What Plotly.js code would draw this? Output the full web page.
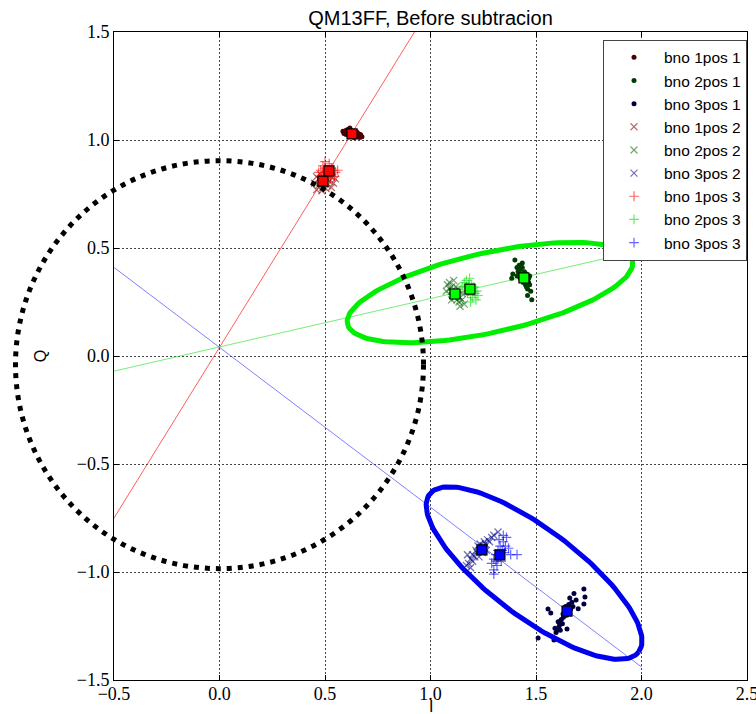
<!DOCTYPE html>
<html><head><meta charset="utf-8">
<script src="https://cdn.plot.ly/plotly-3.0.1.min.js"></script>
<style>html,body{margin:0;padding:0;background:#fff}#chart{width:756px;height:714px}</style>
</head><body><div id="chart"></div>
<script>
// ---------- data ----------
const seriesNames = ["bno 1pos 1","bno 2pos 1","bno 3pos 1","bno 1pos 2","bno 2pos 2","bno 3pos 2","bno 1pos 3","bno 2pos 3","bno 3pos 3"];

// bno 1 pos 1
const b1p1I = [0.585,0.595,0.600,0.605,0.610,0.612,0.615,0.620,0.622,0.625,0.628,0.630,0.633,0.636,0.640,0.642,0.645,0.648,0.652,0.655,0.660,0.665,0.670,0.675,0.618,0.600,0.650,0.638,0.590,0.608,0.658,0.668];
const b1p1Q = [1.040,1.035,1.045,1.030,1.040,1.050,1.025,1.035,1.045,1.020,1.030,1.040,1.028,1.035,1.022,1.032,1.018,1.028,1.025,1.015,1.022,1.012,1.020,1.015,1.055,1.025,1.038,1.012,1.030,1.048,1.030,1.026];
// bno 2 pos 1
const b2p1I = [1.40,1.41,1.415,1.42,1.42,1.425,1.43,1.43,1.435,1.44,1.44,1.445,1.45,1.45,1.455,1.46,1.46,1.465,1.47,1.475,1.46,1.48,1.39,1.385,1.47,1.435,1.455,1.425,1.445,1.465,1.41];
const b2p1Q = [0.444,0.41,0.39,0.42,0.37,0.40,0.38,0.35,0.41,0.37,0.34,0.39,0.36,0.33,0.38,0.35,0.31,0.34,0.33,0.30,0.28,0.26,0.38,0.36,0.37,0.43,0.32,0.36,0.35,0.36,0.37];
// bno 3 pos 1
const b3p1I = [1.727,1.732,1.727,1.68,1.557,1.647,1.60,1.585,1.51,1.66,1.67,1.655,1.65,1.64,1.66,1.635,1.63,1.62,1.625,1.61,1.605,1.595,1.615,1.69,1.675,1.645,1.57,1.70,1.665,1.652,1.638,1.628,1.612,1.59];
const b3p1Q = [-1.079,-1.116,-1.148,-1.10,-1.171,-1.264,-1.268,-1.315,-1.306,-1.12,-1.14,-1.15,-1.17,-1.16,-1.19,-1.19,-1.21,-1.22,-1.24,-1.25,-1.23,-1.28,-1.27,-1.13,-1.16,-1.20,-1.19,-1.17,-1.17,-1.18,-1.175,-1.195,-1.23,-1.26];
// bno 1 pos 2
const b1p2I = [0.45,0.46,0.47,0.47,0.48,0.48,0.49,0.49,0.50,0.50,0.51,0.51,0.52,0.53,0.53,0.54,0.46,0.55,0.485,0.505];
const b1p2Q = [0.80,0.83,0.79,0.82,0.84,0.80,0.78,0.82,0.80,0.84,0.79,0.82,0.81,0.78,0.83,0.80,0.77,0.82,0.765,0.775];
// bno 2 pos 2
const b2p2I = [1.08,1.09,1.09,1.10,1.10,1.105,1.11,1.11,1.115,1.12,1.12,1.125,1.13,1.13,1.135,1.14,1.14,1.15,1.15,1.10,1.16,1.075];
const b2p2Q = [0.33,0.31,0.34,0.30,0.32,0.28,0.35,0.30,0.27,0.29,0.32,0.26,0.28,0.31,0.25,0.27,0.23,0.26,0.29,0.26,0.24,0.30];
// bno 3 pos 2
const b3p2I = [1.17,1.18,1.19,1.20,1.20,1.21,1.215,1.22,1.225,1.23,1.235,1.24,1.245,1.25,1.255,1.26,1.27,1.28,1.29,1.30,1.32,1.19,1.23,1.265,1.175];
const b3p2Q = [-0.97,-0.96,-0.94,-0.95,-0.92,-0.93,-0.90,-0.91,-0.88,-0.90,-0.87,-0.89,-0.91,-0.88,-0.86,-0.87,-0.85,-0.86,-0.84,-0.83,-0.815,-0.98,-0.93,-0.90,-0.92];
// bno 1 pos 3
const b1p3I = [0.48,0.49,0.49,0.50,0.50,0.51,0.51,0.52,0.52,0.53,0.53,0.54,0.545,0.55,0.56,0.50,0.525,0.47];
const b1p3Q = [0.86,0.84,0.88,0.85,0.87,0.83,0.86,0.89,0.85,0.84,0.87,0.86,0.83,0.85,0.86,0.90,0.82,0.85];
// bno 2 pos 3
const b2p3I = [1.16,1.165,1.17,1.17,1.175,1.18,1.18,1.185,1.19,1.19,1.195,1.20,1.20,1.205,1.21,1.215,1.22,1.225,1.19,1.15];
const b2p3Q = [0.34,0.31,0.35,0.32,0.29,0.33,0.30,0.36,0.31,0.28,0.33,0.30,0.27,0.32,0.29,0.26,0.30,0.28,0.25,0.32];
// bno 3 pos 3
const b3p3I = [1.29,1.30,1.30,1.31,1.31,1.315,1.32,1.32,1.33,1.33,1.335,1.34,1.345,1.35,1.355,1.36,1.37,1.38,1.41,1.30,1.325,1.345];
const b3p3Q = [-0.96,-0.99,-0.94,-0.95,-0.92,-0.97,-0.90,-0.94,-0.92,-0.88,-0.95,-0.90,-0.86,-0.91,-0.88,-0.84,-0.89,-0.92,-0.92,-1.01,-0.85,-0.83];

// cluster means (big squares)
const meanI = [0.628,0.490,0.519, 1.443,1.116,1.187, 1.647,1.244,1.329];
const meanQ = [1.028,0.810,0.857, 0.361,0.287,0.310, -1.181,-0.898,-0.921];
const meanColors = ["#ff0000","#ff0000","#ff0000","#00ff00","#00ff00","#00ff00","#0000ff","#0000ff","#0000ff"];

// straight lines from the common origin
const lineI = [-0.5, 2.0];
const redLineQ = [-0.75, 3.2];
const greenLineQ = [-0.07, 0.49];
const blueLineQ = [0.41, -1.44];

// ---------- layout geometry ----------
const W = 756, H = 714;
const M = {l:114, r:9, t:32, b:34};
const xRange = [-0.5, 2.5], yRange = [-1.5, 1.5];
const plotW = W - M.l - M.r, plotH = H - M.t - M.b;
const sx = plotW / (xRange[1]-xRange[0]);
const sy = plotH / (yRange[1]-yRange[0]);

// annotation outlines (centre in data units, semi-axes in px, angle in deg)
const greenEllipse = {cI:1.282, cQ:0.294, a:146, b:40, ang:12.5};
const blueEllipse  = {cI:1.491, cQ:-1.005, a:131, b:44, ang:-37};
const blackCircle  = {cI:0.0, cQ:-0.04, r:204};

function ellipse(e){
  const xs=[], ys=[]; const th=e.ang*Math.PI/180;
  for(let k=0;k<=180;k++){
    const t=2*Math.PI*k/180;
    const u=e.a*Math.cos(t), v=e.b*Math.sin(t);
    xs.push(e.cI + (u*Math.cos(th)-v*Math.sin(th))/sx);
    ys.push(e.cQ + (u*Math.sin(th)+v*Math.cos(th))/sy);
  }
  return {xs, ys};
}

const darkCols = ["#4a0000","#003d00","#00003f"];
const pos2Cols = ["#800000","#006000","#000080"];
const pos3Cols = ["#ff0000","#00dd00","#0000ff"];

const pos1 = [[b1p1I,b1p1Q],[b2p1I,b2p1Q],[b3p1I,b3p1Q]];
const pos2 = [[b1p2I,b1p2Q],[b2p2I,b2p2Q],[b3p2I,b3p2Q]];
const pos3 = [[b1p3I,b1p3Q],[b2p3I,b2p3Q],[b3p3I,b3p3Q]];

const traces = [];
[[redLineQ,"rgba(255,40,40,0.75)"],[greenLineQ,"rgba(60,230,60,0.7)"],[blueLineQ,"rgba(60,60,255,0.65)"]].forEach(([q,c])=>{
  traces.push({x:lineI, y:q, mode:"lines", line:{color:c, width:1}, showlegend:false, hoverinfo:"skip"});
});
pos1.forEach((d,i)=>traces.push({x:d[0], y:d[1], name:seriesNames[i], mode:"markers",
  marker:{symbol:"circle", size:5, color:darkCols[i], line:{width:0}}}));
pos2.forEach((d,i)=>traces.push({x:d[0], y:d[1], name:seriesNames[3+i], mode:"markers",
  marker:{symbol:"x-thin-open", size:7, color:pos2Cols[i], opacity:0.55, line:{width:1.3, color:pos2Cols[i]}}}));
pos3.forEach((d,i)=>traces.push({x:d[0], y:d[1], name:seriesNames[6+i], mode:"markers",
  marker:{symbol:"cross-thin-open", size:7, color:pos3Cols[i], opacity:0.6, line:{width:1.2, color:pos3Cols[i]}}}));
traces.push({x:meanI, y:meanQ, mode:"markers", showlegend:false, hoverinfo:"skip",
  marker:{symbol:"square", size:10, color:meanColors, line:{width:1.2, color:"#000"}}});
[[greenEllipse,"#00ee00"],[blueEllipse,"#0000ee"]].forEach(([e,c])=>{
  const p=ellipse(e);
  traces.push({x:p.xs, y:p.ys, mode:"lines", line:{color:c, width:5}, showlegend:false, hoverinfo:"skip"});
});

// black dotted circle as paper shape (extends beyond plot area)
const ccx = (blackCircle.cI - xRange[0])*sx, ccy = (blackCircle.cQ - yRange[0])*sy;
const shapes = [{type:"circle", xref:"paper", yref:"paper",
  x0:(ccx-blackCircle.r)/plotW, x1:(ccx+blackCircle.r)/plotW,
  y0:(ccy-blackCircle.r)/plotH, y1:(ccy+blackCircle.r)/plotH,
  line:{color:"#000", width:5, dash:"5px,6px"}}];

const axisCommon = {
  showline:true, linecolor:"#000", linewidth:1, mirror:"ticks",
  ticks:"inside", ticklen:5, tickcolor:"#000", tickwidth:1,
  showgrid:true, gridcolor:"#444", gridwidth:1, griddash:"2px,2px",
  zeroline:false, dtick:0.5, tickformat:".1f", ticklabeloverflow:"allow",
  tickfont:{family:"Liberation Serif", size:18, color:"#000"},
  automargin:false, fixedrange:true
};

const layout = {
  width:W, height:H, margin:M, paper_bgcolor:"#fff", plot_bgcolor:"#fff",
  title:{text:"QM13FF, Before subtracion", font:{family:"Liberation Sans", size:20, color:"#000"},
    x:0.5, xref:"paper", xanchor:"center", y:1-18/H, yref:"container", yanchor:"middle"},
  xaxis:Object.assign({}, axisCommon, {range:xRange, tick0:-0.5, ticklabelstandoff:-3}),
  yaxis:Object.assign({}, axisCommon, {range:yRange, tick0:-1.5,
    title:{text:"Q", font:{family:"Liberation Sans", size:16, color:"#000"}, standoff:26}}),
  annotations:[{text:"I", xref:"paper", yref:"paper", x:(1.0-xRange[0])/(xRange[1]-xRange[0]), y:-(M.b+3)/plotH,
    xanchor:"center", yanchor:"bottom", showarrow:false,
    font:{family:"Liberation Sans", size:16, color:"#000"}}],
  legend:{x:1, xanchor:"right", y:0.988, yanchor:"top", bgcolor:"#fff", bordercolor:"#444", borderwidth:1,
    font:{family:"Liberation Sans", size:15.5, color:"#000"}, itemwidth:50},
  shapes:shapes, showlegend:true
};

Plotly.newPlot("chart", traces, layout, {displayModeBar:false, staticPlot:true});
</script>
</body></html>
